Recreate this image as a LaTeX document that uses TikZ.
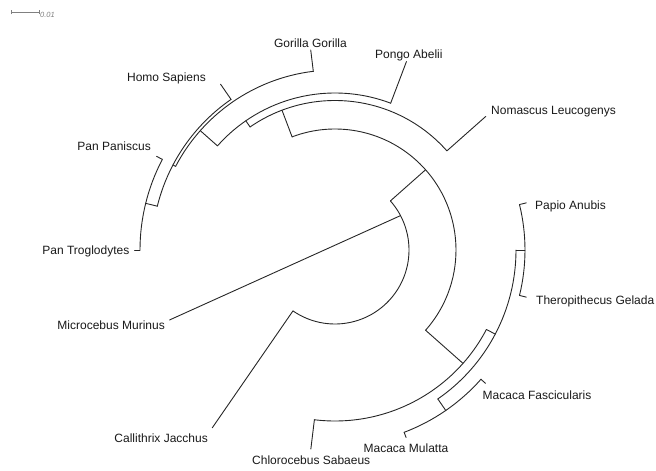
\documentclass[tikz,border=0pt]{standalone}
\usepackage{fontspec}
\setmainfont{Liberation Sans}
\usetikzlibrary{calc}
\newcommand{\tstem}[4]{%
  \coordinate (#1-a) at ($(C)+(#2:#3pt)$);
  \coordinate (#1-b) at ($(C)+(#2:#4pt)$);
  \draw[branch] (#1-a) -- (#1-b);}
\newcommand{\tarc}[4]{%
  \coordinate (#1-s) at ($(C)+(#2:#4pt)$);
  \draw[branch] (#1-s) arc[start angle=#2, end angle=#3, radius=#4pt];}
\begin{document}
\begin{tikzpicture}[x=1pt,y=1pt,
  branch/.style={line width=0.9pt, draw=black!85, line cap=round},
  leaflabel/.style={inner sep=0pt, font=\fontsize{12}{14}\selectfont, text=black!90},
  scalebar/.style={line width=0.8pt, draw=black!50}]
\useasboundingbox (0,0) rectangle (656,471);
\coordinate (C) at (335,221);
% ---- apes ----
\tarc{pan}{152.308}{180}{195}
\tstem{pan}{166.154}{183}{195}
\tarc{hominini}{124.615}{166.154}{183}
\tstem{hominini}{152.308}{180}{183}
\tarc{homininae}{96.923}{152.308}{180}
\tstem{homininae}{138.462}{157}{180}
\tarc{hominidae}{69.231}{138.462}{157}
\tstem{hominidae}{124.615}{149.5}{157}
\tarc{hominoidea}{41.538}{124.615}{149.5}
\tstem{hominoidea}{110.769}{121}{149.5}
\tarc{catarrhini}{-41.538}{110.769}{121}
\tstem{catarrhini}{41.538}{74}{121}
\tarc{simiiformes}{-124.615}{41.538}{74}
% ---- old world monkeys ----
\tstem{cercopith}{-41.538}{121}{171}
\tarc{cercopith}{-96.923}{-27.692}{171}
\tstem{papionini}{-27.692}{171}{181}
\tarc{papionini}{-55.385}{0}{181}
\tstem{papiothero}{0}{181}{190}
\tarc{papiothero}{-13.846}{13.846}{190}
\tstem{macaca}{-55.385}{181}{195}
\tarc{macaca}{-69.231}{-41.538}{195}
% ---- leaves ----
\tstem{nomascus}{41.538}{149.5}{201.5}
\tstem{pongo}{69.231}{157}{201.5}
\tstem{gorilla}{96.923}{180}{201.5}
\tstem{homo}{124.615}{183}{201.5}
\tstem{panpan}{152.308}{195}{201.5}
\tstem{pantro}{180}{195}{200.5}
\tstem{callithrix}{235.385}{74}{216}
\tstem{chlorocebus}{263.077}{171}{200.5}
\tstem{mulatta}{290.769}{195}{200.5}
\tstem{fascicularis}{318.462}{195}{201}
\tstem{thero}{346.154}{190}{197}
\tstem{papio}{13.846}{190}{197}
% Microcebus: from the Simiiformes node across the root
\coordinate (simi) at ($(C)+(27.692:74pt)$);
\coordinate (micro) at (169.5,151);
\draw[branch] (simi) -- (micro);
% ---- labels ----
\node[leaflabel, anchor=base] (lGor) at (310.5,423.5) {Gorilla Gorilla};
\node[leaflabel, anchor=base east] (lHomo) at (206,389.5) {Homo Sapiens};
\node[leaflabel, anchor=base west] (lPongo) at (375,412) {Pongo Abelii};
\node[leaflabel, anchor=base west] (lNom) at (491,356.5) {Nomascus Leucogenys};
\node[leaflabel, anchor=base east] (lPanP) at (151,320) {Pan Paniscus};
\node[leaflabel, anchor=base east] (lPanT) at (129.5,216) {Pan Troglodytes};
\node[leaflabel, anchor=base west] (lPapio) at (535,261.5) {Papio Anubis};
\node[leaflabel, anchor=base west] (lThero) at (536,166) {Theropithecus Gelada};
\node[leaflabel, anchor=base east] (lMicro) at (165,141.5) {Microcebus Murinus};
\node[leaflabel, anchor=base west] (lFasc) at (482.5,71.5) {Macaca Fascicularis};
\node[leaflabel, anchor=base east] (lCalli) at (208,28) {Callithrix Jacchus};
\node[leaflabel, anchor=base east] (lMul) at (448.5,18.5) {Macaca Mulatta};
\node[leaflabel, anchor=base west] (lChloro) at (252,6.5) {Chlorocebus Sabaeus};
% ---- scale bar ----
\coordinate (sbL) at (11.7,458.7);
\coordinate (sbR) at (39,458.7);
\draw[scalebar] (sbL) -- (sbR);
\draw[scalebar] ($(sbL)+(0,-2)$) -- ($(sbL)+(0,2)$);
\draw[scalebar] ($(sbR)+(0,-2)$) -- ($(sbR)+(0,2)$);
\node[inner sep=0pt, anchor=base west, font=\itshape\fontsize{7.5}{9}\selectfont, text=black!50] (sbT) at (40,453) {0.01};
\end{tikzpicture}
\end{document}
